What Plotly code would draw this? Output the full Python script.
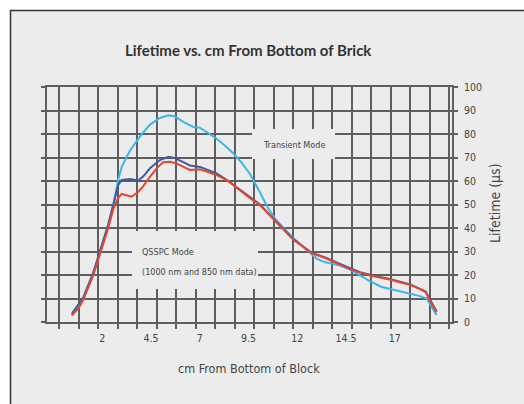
import plotly.graph_objects as go

# ---------------- data ----------------
transient_x = [0.64, 1.2, 1.74, 2.1, 2.5, 2.8, 3.03, 3.2, 3.63, 4.14, 4.65, 5.16, 5.6, 5.9, 6.36, 6.87,
               7.2, 7.6, 8.07, 8.5, 8.92, 9.35, 9.78, 10.3, 10.7, 11.06, 11.5, 12.0, 12.5, 12.86, 13.2,
               13.6, 14.4, 15.0, 15.5, 15.9, 16.5, 17.0, 17.8, 18.5, 18.84, 19.1, 19.35]
transient_y = [3, 9, 20, 29.5, 41, 51, 61, 66, 73, 79, 84, 86.8, 88, 87.6, 85.2, 83,
               82.7, 80.6, 78, 75, 71.8, 67.8, 63, 55, 48.5, 44, 40, 35.7, 32, 29.5, 27,
               25.5, 24, 22, 19.5, 17.5, 15, 14, 12.5, 11, 10, 6.5, 3]

qsspc1000_x = [0.64, 1.0, 1.23, 1.74, 2.09, 2.51, 2.77, 3.03, 3.2, 3.63, 4.05, 4.31, 4.65, 5.16, 5.6,
               5.9, 6.36, 6.7, 7.22, 7.6, 8.07, 8.58, 9.1, 9.78, 10.29, 11.06, 12.0, 12.94, 13.7,
               14.4, 15.42, 16.5, 17.0, 18.0, 18.79, 19.35]
qsspc1000_y = [3.5, 7.5, 10.5, 21, 30, 41.5, 50, 58.5, 60.4, 60.8, 60.2, 62, 65.4, 68.9, 70.3,
               69.8, 68, 66.6, 66, 64.8, 63.2, 60.5, 57.2, 53, 50, 43.3, 35.3, 29.5, 27.3,
               24.7, 21.2, 19, 18.2, 16, 13, 4.5]

qsspc850_x = [0.64, 1.0, 1.23, 1.74, 2.09, 2.51, 2.77, 3.0, 3.2, 3.45, 3.7, 4.0, 4.23, 4.65, 5.0,
              5.33, 5.68, 6.0, 6.36, 6.7, 7.22, 7.6, 8.07, 8.58, 9.1, 9.78, 10.29, 11.06, 11.5,
              12.0, 12.5, 12.94, 13.7, 14.4, 14.9, 15.42, 15.93, 16.5, 17.0, 17.5, 18.0, 18.5,
              18.79, 19.0, 19.35]
qsspc850_y = [2.7, 6, 9.5, 20, 29, 40, 48, 52.5, 54.5, 54, 53.3, 55, 57, 61.8, 65.5,
              68, 68.2, 67.5, 66, 64.7, 65, 63.8, 62.5, 60.4, 57, 52.7, 49.8, 43, 39.5,
              35, 32, 29.3, 27, 24.5, 22.5, 21, 19.8, 18.8, 18, 16.8, 15.8, 14,
              12.7, 9, 4.2]

x_tick_vals = [2, 4.5, 7, 9.5, 12, 14.5, 17]
x_tick_text = ["2", "4.5", "7", "9.5", "12", "14.5", "17"]
y_tick_vals = [0, 10, 20, 30, 40, 50, 60, 70, 80, 90, 100]

title_text = "Lifetime vs. cm From Bottom of Brick"
x_title = "cm From Bottom of Block"
y_title = "Lifetime (µs)"
label_transient = "Transient Mode"
label_qsspc_1 = "QSSPC Mode"
label_qsspc_2 = "(1000 nm and 850 nm data)"

# ---------------- layout geometry (pixels) ----------------
W, H = 524, 404
ML, MR, MT, MB = 47, 72, 87, 82
PW = W - ML - MR
PH = H - MT - MB
XR = [-0.631, 20.14]
YR = [0, 100]


def px_to_x(px):
    return XR[0] + (px - ML) / PW * (XR[1] - XR[0])


def py_to_y(py):
    return YR[0] + (H - MB - py) / PH * (YR[1] - YR[0])


def px_to_paper(px):
    return (px - ML) / PW


def py_to_paper(py):
    return (H - MB - py) / PH


GRID = "#5e5e5e"
BG = "#ececec"
TXT = "#444444"
NARROW = "DejaVu Sans Condensed, Liberation Sans Narrow, sans-serif"

fig = go.Figure()
fig.add_trace(go.Scatter(x=transient_x, y=transient_y, mode="lines",
                         line=dict(color="#3cb6ea", width=2), name="Transient"))
fig.add_trace(go.Scatter(x=qsspc1000_x, y=qsspc1000_y, mode="lines",
                         line=dict(color="#3d5aa8", width=2), name="QSSPC 1000 nm"))
fig.add_trace(go.Scatter(x=qsspc850_x, y=qsspc850_y, mode="lines",
                         line=dict(color="#e9452b", width=2), name="QSSPC 850 nm"))

shapes = [
    # outer frame
    dict(type="rect", xref="paper", yref="paper", layer="below",
         x0=px_to_paper(10.5), x1=px_to_paper(700), y0=py_to_paper(600), y1=py_to_paper(10.5),
         fillcolor=BG, line=dict(color="#333333", width=1.5)),
    # label boxes that hide gridlines
    dict(type="rect", xref="x", yref="y", layer="between",
         x0=px_to_x(252), x1=px_to_x(335), y0=py_to_y(159), y1=py_to_y(129),
         fillcolor=BG, line=dict(width=0)),
    dict(type="rect", xref="x", yref="y", layer="between",
         x0=px_to_x(132), x1=px_to_x(258), y0=py_to_y(289), y1=py_to_y(231),
         fillcolor=BG, line=dict(width=0)),
]

annotations = [
    dict(text=title_text, xref="paper", yref="paper", x=px_to_paper(248), y=py_to_paper(50),
         showarrow=False, xanchor="center", yanchor="middle",
         font=dict(family="Lato, Open Sans, sans-serif", size=15, color="#333333", weight="bold")),
    dict(text=x_title, xref="paper", yref="paper", x=px_to_paper(249), y=py_to_paper(368),
         showarrow=False, xanchor="center", yanchor="middle",
         font=dict(family=NARROW, size=12.5, color=TXT)),
    dict(text=y_title, xref="paper", yref="paper", x=px_to_paper(495), y=py_to_paper(203),
         showarrow=False, xanchor="center", yanchor="middle", textangle=-90,
         font=dict(family=NARROW, size=14, color=TXT)),
    dict(text=label_transient, xref="paper", yref="paper", x=px_to_paper(294), y=py_to_paper(145),
         showarrow=False, xanchor="center", yanchor="middle",
         font=dict(family=NARROW, size=9, color=TXT)),
    dict(text=label_qsspc_1, xref="paper", yref="paper", x=px_to_paper(140), y=py_to_paper(252),
         showarrow=False, xanchor="left", yanchor="middle",
         font=dict(family=NARROW, size=9, color=TXT)),
    dict(text=label_qsspc_2, xref="paper", yref="paper", x=px_to_paper(140), y=py_to_paper(272),
         showarrow=False, xanchor="left", yanchor="middle",
         font=dict(family=NARROW, size=9, color=TXT)),
]

fig.update_layout(
    width=W, height=H,
    margin=dict(l=ML, r=MR, t=MT, b=MB, pad=0),
    paper_bgcolor="white", plot_bgcolor="rgba(0,0,0,0)",
    showlegend=False,
    shapes=shapes, annotations=annotations,
    xaxis=dict(range=XR, tickmode="array", tickvals=x_tick_vals, ticktext=x_tick_text,
               ticks="", showgrid=False, zeroline=False,
               showline=True, linecolor=GRID, linewidth=2, mirror=True,
               ticklabelshift=4, ticklabelstandoff=5,
               tickfont=dict(family=NARROW, size=10.5, color=TXT),
               minor=dict(tickmode="linear", tick0=0, dtick=1, showgrid=True,
                          gridcolor=GRID, gridwidth=1.7, ticks="outside", ticklen=5,
                          tickwidth=1.7, tickcolor=GRID)),
    yaxis=dict(range=YR, side="right", tickmode="array", tickvals=y_tick_vals,
               showgrid=True, gridcolor=GRID, gridwidth=1.7, zeroline=False,
               showline=True, linecolor=GRID, linewidth=2, mirror="ticks",
               ticks="outside", ticklen=4, tickwidth=1.7, tickcolor=GRID,
               ticklabelstandoff=4,
               tickfont=dict(family=NARROW, size=10.5, color=TXT)),
)

fig.write_html("out.html", config={"displayModeBar": False},
               post_script="document.body.style.margin='0';")
